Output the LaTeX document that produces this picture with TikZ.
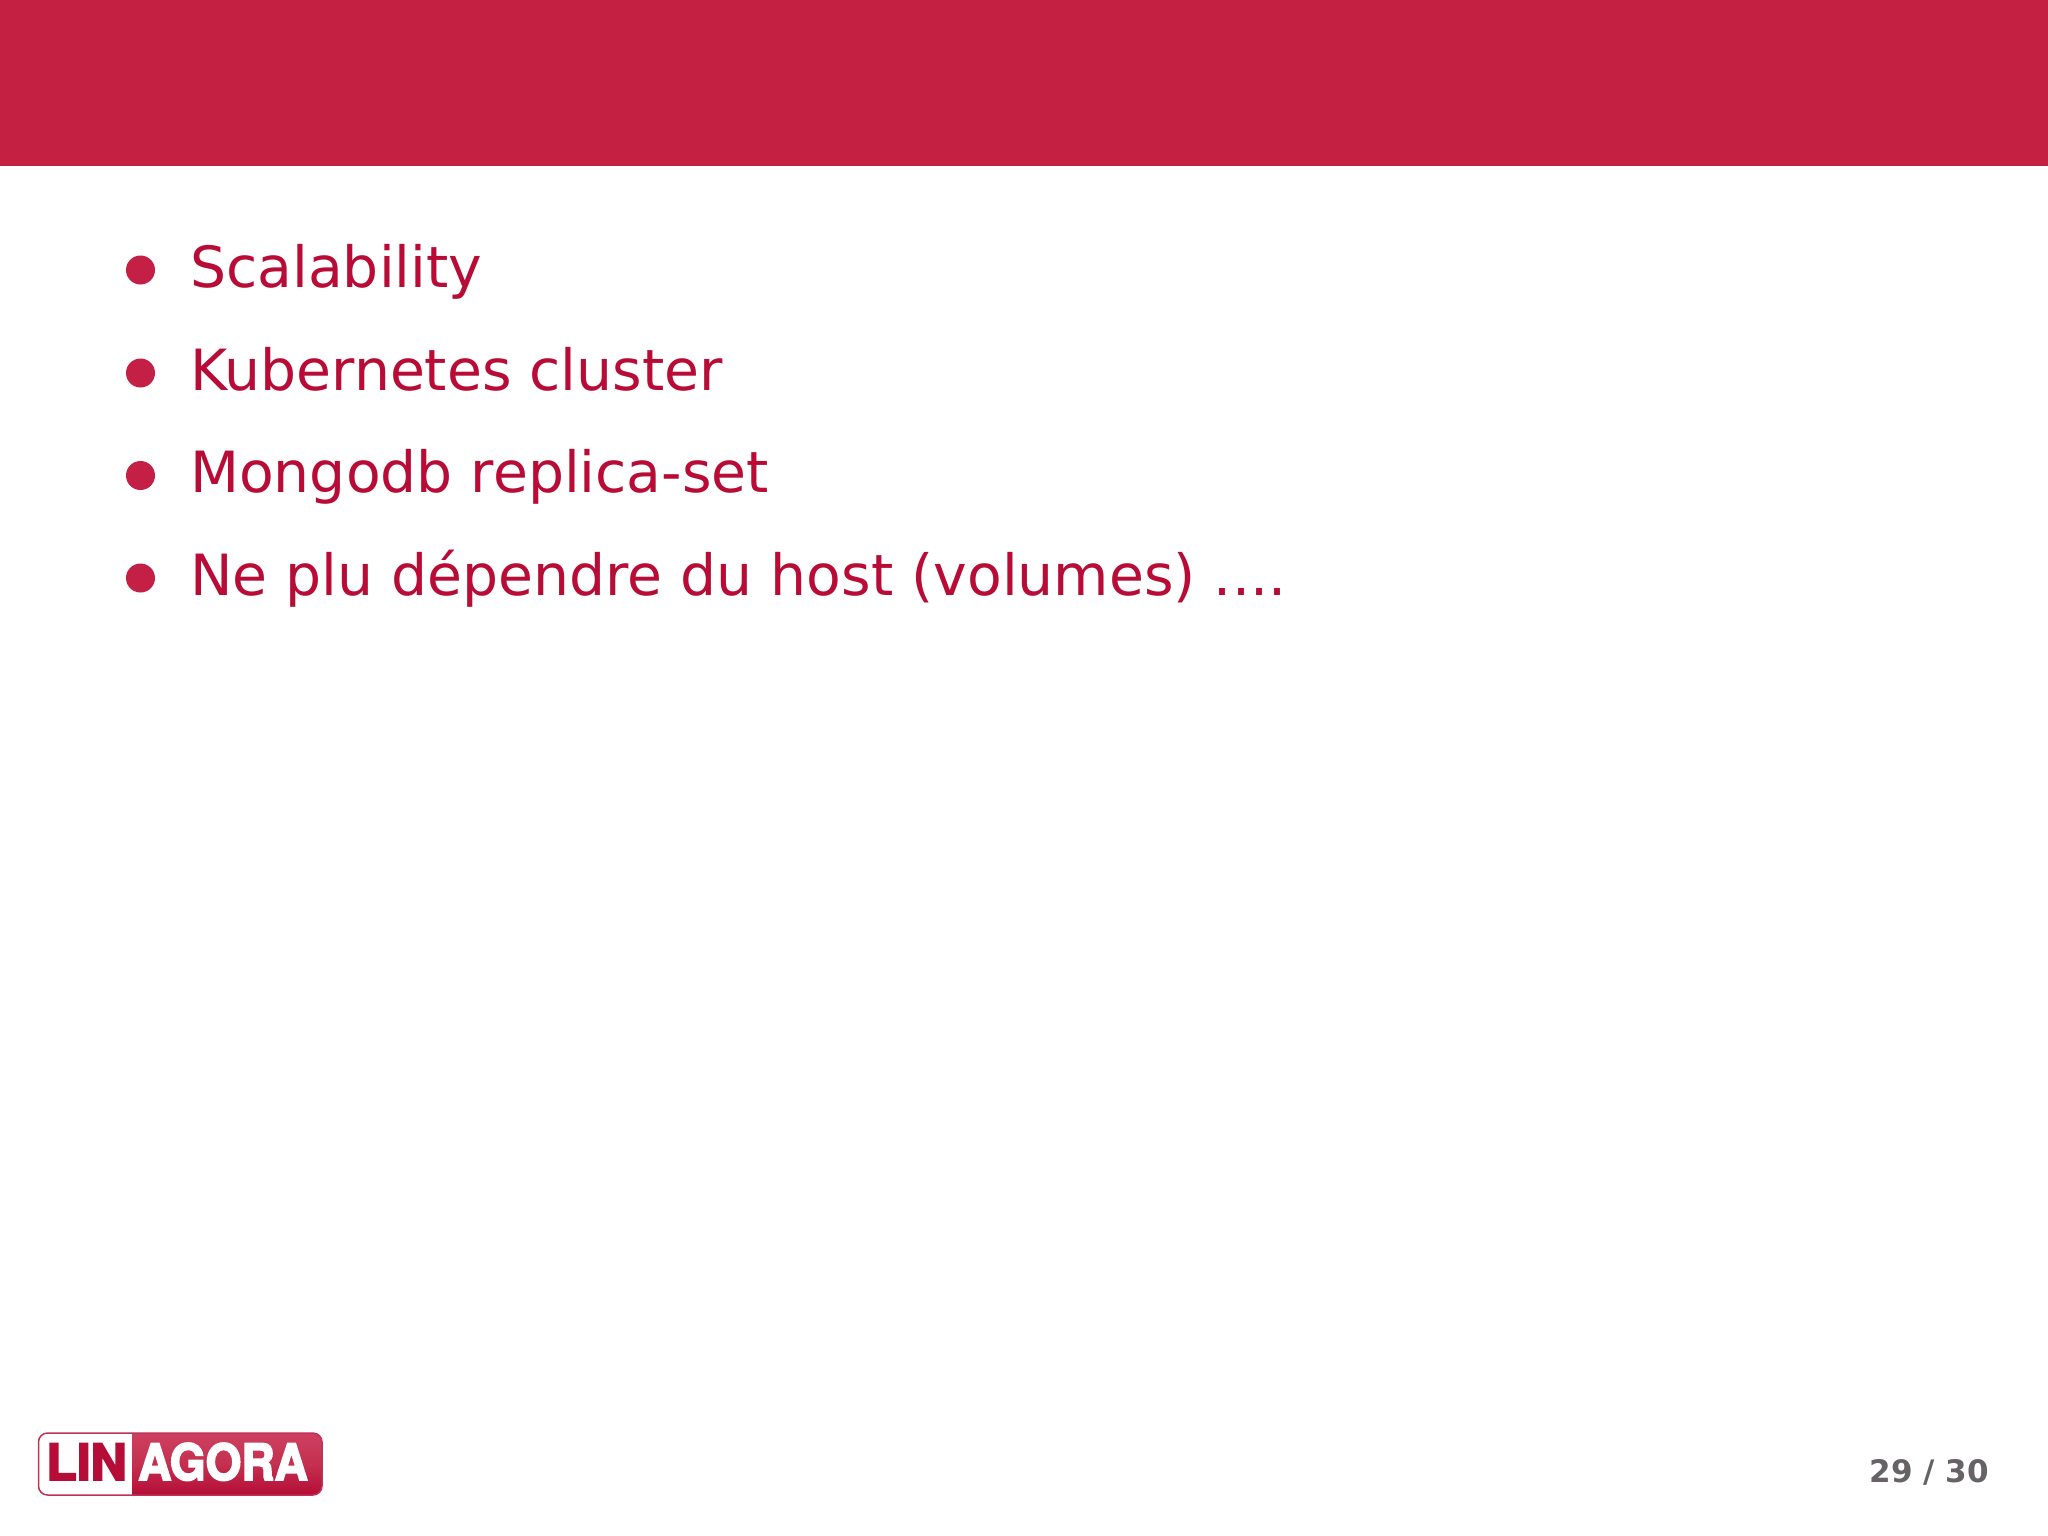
\documentclass[tikz,border=0pt]{standalone}
\usepackage{fontspec}
\setmainfont{DejaVu Sans}
\newfontfamily\logofont[FakeBold=3.5]{TeX Gyre Heros Bold}
\usetikzlibrary{calc}
\definecolor{headred}{HTML}{C42041}
\definecolor{textred}{HTML}{B80C36}
\definecolor{bulletred}{HTML}{C41F45}
\definecolor{pagegray}{HTML}{666266}
\definecolor{logodark}{HTML}{B50D37}
\definecolor{logomid}{HTML}{C4304F}
\definecolor{logolight}{HTML}{CE4060}
\tikzset{
  bullettext/.style={anchor=base west,inner sep=0pt,text=textred,font=\fontsize{56.8}{60}\selectfont},
  bulletdot/.style={circle,fill=bulletred,draw=none,minimum size=29pt,inner sep=0pt},
  logotext/.style={anchor=base west,inner sep=0pt,font=\logofont\fontsize{50}{50}\selectfont},
}
\begin{document}
\begin{tikzpicture}[x=1pt,y=-1pt]
\useasboundingbox (0,0) rectangle (2048,1535);
\fill[white] (0,0) rectangle (2048,1535);
\fill[headred] (0,0) rectangle (2048,166);
% bullets
\node[bulletdot] (d1) at (140.5,270) {};
\node[bulletdot] (d2) at (140.5,373) {};
\node[bulletdot] (d3) at (140.5,475.5) {};
\node[bulletdot] (d4) at (140.5,578) {};
\node[bullettext] (t1) at (190,287) {Scalability};
\node[bullettext] (t2) at (190,390) {Kubernetes cluster};
\node[bullettext] (t3) at (190,492.5) {Mongodb replica-set};
\node[bullettext] (t4) at (190,595) {Ne plu dépendre du host (volumes) ....};
% page number
\node[anchor=base east,inner sep=0pt,text=pagegray,font=\fontsize{31}{31}\selectfont\bfseries] (pg) at (1989,1482) {29 / 30};
% logo
\begin{scope}
  \clip[rounded corners=9pt] (38.5,1433) rectangle (322,1495);
  \fill[white] (38.5,1433) rectangle (132,1495);
  \shade[top color=logolight,bottom color=logodark,middle color=logomid] (132,1433) rectangle (322,1495);
\end{scope}
\draw[logodark!85!white,line width=1.5pt,rounded corners=9pt] (38.5,1433) rectangle (322,1495);
\node[logotext,text=logodark] (lin) at (46,1480) {LIN};
\node[logotext,text=white,xscale=.92] (agora) at (138,1480) {AGORA};
\end{tikzpicture}
\end{document}
